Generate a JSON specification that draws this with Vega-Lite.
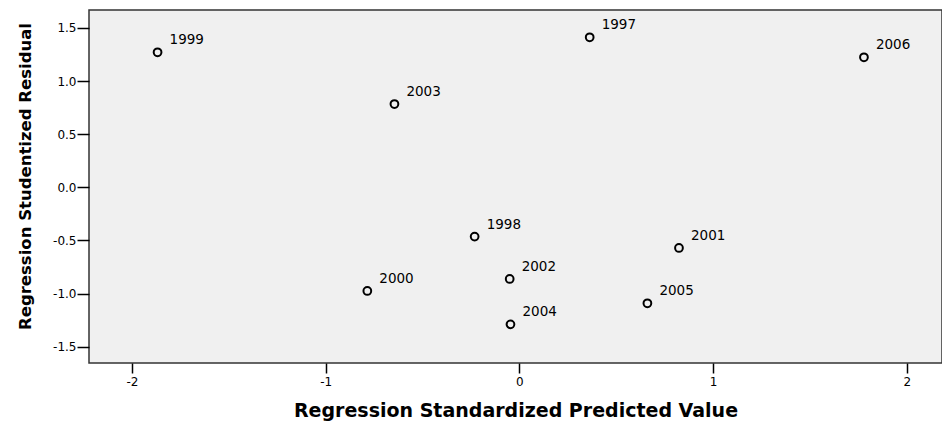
{
  "$schema": "https://vega.github.io/schema/vega-lite/v6.json",
  "width": 853,
  "height": 353,
  "autosize": {"type": "none"},
  "padding": {"left": 89, "top": 10, "right": 0, "bottom": 58},
  "background": "white",
  "config": {
    "view": {"fill": "#f0f0f0", "stroke": "#333333", "strokeWidth": 1.5},
    "font": "DejaVu Sans"
  },
  "data": {
    "values": [
      {"pred": -1.868, "resid": 1.271, "year": "1999"},
      {"pred": -0.645, "resid": 0.784, "year": "2003"},
      {"pred": 0.363, "resid": 1.412, "year": "1997"},
      {"pred": 1.779, "resid": 1.224, "year": "2006"},
      {"pred": -0.231, "resid": -0.464, "year": "1998"},
      {"pred": 0.824, "resid": -0.571, "year": "2001"},
      {"pred": -0.050, "resid": -0.863, "year": "2002"},
      {"pred": -0.785, "resid": -0.976, "year": "2000"},
      {"pred": 0.661, "resid": -1.092, "year": "2005"},
      {"pred": -0.046, "resid": -1.290, "year": "2004"}
    ]
  },
  "encoding": {
    "x": {
      "field": "pred", "type": "quantitative",
      "scale": {"domain": [-2.222, 2.182], "nice": false, "zero": false},
      "axis": {
        "title": "Regression Standardized Predicted Value",
        "values": [-2, -1, 0, 1, 2], "format": "d",
        "labelExpr": "replace(datum.label, '\u2212', '-')",
        "grid": false, "domain": false,
        "tickSize": 10, "tickWidth": 1.5, "tickColor": "#000000",
        "labelFont": "DejaVu Sans", "labelFontSize": 12, "labelColor": "#000000", "labelPadding": 3,
        "titleFont": "DejaVu Sans", "titleFontSize": 19, "titleFontWeight": "bold", "titleColor": "#000000", "titlePadding": 14
      }
    },
    "y": {
      "field": "resid", "type": "quantitative",
      "scale": {"domain": [-1.654, 1.669], "nice": false, "zero": false},
      "axis": {
        "title": "Regression Studentized Residual",
        "values": [-1.5, -1.0, -0.5, 0.0, 0.5, 1.0, 1.5], "format": ".1f",
        "labelExpr": "replace(datum.label, '\u2212', '-')",
        "grid": false, "domain": false,
        "tickSize": 12, "tickWidth": 1.5, "tickColor": "#000000",
        "labelFont": "DejaVu Sans", "labelFontSize": 12, "labelColor": "#000000", "labelPadding": 1,
        "titleFont": "DejaVu Sans", "titleFontSize": 16.5, "titleFontWeight": "bold", "titleColor": "#000000",
        "titleX": -56, "titleY": 166
      }
    }
  },
  "layer": [
    {
      "mark": {"type": "point", "shape": "circle", "filled": false, "size": 60, "strokeWidth": 2, "color": "#000000", "opacity": 1}
    },
    {
      "mark": {"type": "text", "align": "left", "baseline": "alphabetic", "dx": 12, "dy": -8, "fontSize": 13.5, "font": "DejaVu Sans", "color": "#000000"},
      "encoding": {"text": {"field": "year"}}
    }
  ]
}
